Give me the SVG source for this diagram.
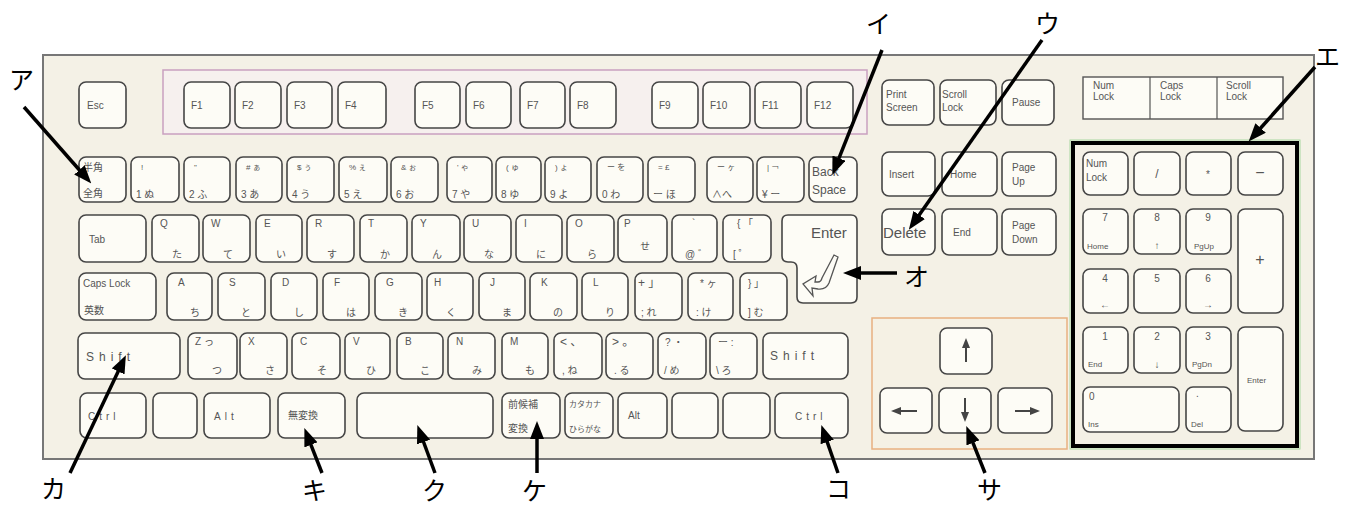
<svg xmlns="http://www.w3.org/2000/svg" width="1352" height="506" viewBox="0 0 1352 506">
<defs>
<marker id="ah" markerUnits="userSpaceOnUse" markerWidth="18" markerHeight="14" refX="8" refY="7" orient="auto"><path d="M0,0 L18,7 L0,14 Z" fill="#000"/></marker>
<marker id="kh" markerUnits="userSpaceOnUse" markerWidth="10" markerHeight="8" refX="2" refY="4" orient="auto"><path d="M0,0 L10,4 L0,8 Z" fill="#444"/></marker>
</defs>
<style>
.k{fill:#fdfcf6;stroke:#454545;stroke-width:1.6}
.t{font-family:"Liberation Sans","Noto Sans CJK JP",sans-serif;font-size:10px;fill:#555}
.s{font-size:8px}
.m{font-size:12px}
.c{text-anchor:middle}
.j{font-family:"Noto Sans CJK JP",sans-serif;font-size:25px;fill:#000}
.a{stroke:#000;stroke-width:3.5;fill:none;marker-end:url(#ah)}
.ka{stroke:#444;stroke-width:2;fill:none;marker-end:url(#kh)}
</style>
<rect width="1352" height="506" fill="#fff"/>
<g id="body">
<rect x="43" y="55" width="1271" height="404" fill="#f4f1e6" stroke="#777" stroke-width="2"/>
<rect x="163" y="70" width="704" height="64" fill="#f6f0ee" stroke="#c9a0c0" stroke-width="1.5"/>
<rect x="872" y="318" width="195" height="131" fill="#f5f1e4" stroke="#e8b080" stroke-width="1.5"/>
<rect x="1070" y="140" width="230" height="309" fill="none" stroke="#a8d8a0" stroke-width="1"/>
<rect x="1073" y="143" width="224" height="303" fill="none" stroke="#000" stroke-width="4"/>
</g>
<g id="frow">
<g id="k-esc"><rect class="k" x="79" y="82" width="47" height="46" rx="7"/><text class="t" x="87" y="109">Esc</text></g>
<g id="k-f1"><rect class="k" x="184" y="82" width="46" height="46" rx="7"/><text class="t" x="191" y="109">F1</text></g>
<g id="k-f2"><rect class="k" x="235" y="82" width="46" height="46" rx="7"/><text class="t" x="242" y="109">F2</text></g>
<g id="k-f3"><rect class="k" x="287" y="82" width="45" height="46" rx="7"/><text class="t" x="294" y="109">F3</text></g>
<g id="k-f4"><rect class="k" x="338" y="82" width="48" height="46" rx="7"/><text class="t" x="345" y="109">F4</text></g>
<g id="k-f5"><rect class="k" x="415" y="82" width="45" height="46" rx="7"/><text class="t" x="422" y="109">F5</text></g>
<g id="k-f6"><rect class="k" x="466" y="82" width="45" height="46" rx="7"/><text class="t" x="473" y="109">F6</text></g>
<g id="k-f7"><rect class="k" x="520" y="82" width="45" height="46" rx="7"/><text class="t" x="527" y="109">F7</text></g>
<g id="k-f8"><rect class="k" x="570" y="82" width="46" height="46" rx="7"/><text class="t" x="577" y="109">F8</text></g>
<g id="k-f9"><rect class="k" x="652" y="82" width="46" height="46" rx="7"/><text class="t" x="659" y="109">F9</text></g>
<g id="k-f10"><rect class="k" x="703" y="82" width="47" height="46" rx="7"/><text class="t" x="710" y="109">F10</text></g>
<g id="k-f11"><rect class="k" x="755" y="82" width="46" height="46" rx="7"/><text class="t" x="762" y="109">F11</text></g>
<g id="k-f12"><rect class="k" x="807" y="82" width="46" height="46" rx="7"/><text class="t" x="814" y="109">F12</text></g>
<g id="k-prt"><rect class="k" x="882" y="80" width="52" height="45" rx="7"/><text class="t" x="886" y="98">Print</text><text class="t" x="886" y="111">Screen</text></g>
<g id="k-scr"><rect class="k" x="940" y="80" width="56" height="45" rx="7"/><text class="t" x="942" y="98">Scroll</text><text class="t" x="942" y="111">Lock</text></g>
<g id="k-pause"><rect class="k" x="1002" y="80" width="52" height="45" rx="7"/><text class="t" x="1012" y="106">Pause</text></g>
<g id="ind"><rect x="1083" y="77" width="200" height="42" fill="#fdfcf6" stroke="#555" stroke-width="1.4"/><line x1="1150" y1="77" x2="1150" y2="119" stroke="#555" stroke-width="1.2"/><line x1="1217" y1="77" x2="1217" y2="119" stroke="#555" stroke-width="1.2"/><text class="t" x="1093" y="89">Num</text><text class="t" x="1093" y="100">Lock</text><text class="t" x="1160" y="89">Caps</text><text class="t" x="1160" y="100">Lock</text><text class="t" x="1226" y="89">Scroll</text><text class="t" x="1226" y="100">Lock</text></g>
</g>
<g id="row1">
<g id="k-hz"><rect class="k" x="79" y="157" width="47" height="45" rx="7"/><text class="t" x="83" y="171">半角</text><text class="t" x="83" y="197">全角</text></g>
<g id="k-1"><rect class="k" x="131" y="157" width="48" height="45" rx="7"/><text class="t s" x="141" y="170">!</text><text class="t" x="136" y="198">1 ぬ</text></g>
<g id="k-2"><rect class="k" x="184" y="157" width="46" height="45" rx="7"/><text class="t s" x="194" y="170">"</text><text class="t" x="189" y="198">2 ふ</text></g>
<g id="k-3"><rect class="k" x="236" y="157" width="46" height="45" rx="7"/><text class="t s" x="246" y="170"># ぁ</text><text class="t" x="241" y="198">3 あ</text></g>
<g id="k-4"><rect class="k" x="287" y="157" width="47" height="45" rx="7"/><text class="t s" x="297" y="170">$ ぅ</text><text class="t" x="292" y="198">4 う</text></g>
<g id="k-5"><rect class="k" x="339" y="157" width="48" height="45" rx="7"/><text class="t s" x="349" y="170">% ぇ</text><text class="t" x="344" y="198">5 え</text></g>
<g id="k-6"><rect class="k" x="391" y="157" width="47" height="45" rx="7"/><text class="t s" x="401" y="170">&amp; ぉ</text><text class="t" x="396" y="198">6 お</text></g>
<g id="k-7"><rect class="k" x="447" y="157" width="45" height="45" rx="7"/><text class="t s" x="457" y="170">' ゃ</text><text class="t" x="452" y="198">7 や</text></g>
<g id="k-8"><rect class="k" x="496" y="157" width="45" height="45" rx="7"/><text class="t s" x="506" y="170">( ゅ</text><text class="t" x="501" y="198">8 ゆ</text></g>
<g id="k-9"><rect class="k" x="545" y="157" width="46" height="45" rx="7"/><text class="t s" x="555" y="170">) ょ</text><text class="t" x="550" y="198">9 よ</text></g>
<g id="k-0"><rect class="k" x="597" y="157" width="46" height="45" rx="7"/><text class="t s" x="607" y="170">ー を</text><text class="t" x="602" y="198">0 わ</text></g>
<g id="k-minus"><rect class="k" x="648" y="157" width="47" height="45" rx="7"/><text class="t s" x="658" y="170">= £</text><text class="t" x="653" y="198">ー ほ</text></g>
<g id="k-caret"><rect class="k" x="707" y="157" width="46" height="45" rx="7"/><text class="t s" x="717" y="170">ー ヶ</text><text class="t" x="712" y="198">∧へ</text></g>
<g id="k-yen"><rect class="k" x="757" y="157" width="47" height="45" rx="7"/><text class="t s" x="767" y="170">| ￢</text><text class="t" x="762" y="198">¥ ー</text></g>
<g id="k-bs"><rect class="k" x="809" y="157" width="48" height="45" rx="7"/><text class="t m" x="812" y="176">Back</text><text class="t m" x="812" y="194">Space</text></g>
</g>
<g id="row2">
<g id="k-tab"><rect class="k" x="79" y="215" width="67" height="47" rx="7"/><text class="t" x="89" y="243">Tab</text></g>
<g id="k-q"><rect class="k" x="152" y="215" width="47" height="47" rx="7"/><text class="t" x="160" y="227">Q</text><text class="t c" x="177" y="258">た</text></g>
<g id="k-w"><rect class="k" x="203" y="215" width="47" height="47" rx="7"/><text class="t" x="211" y="227">W</text><text class="t c" x="228" y="258">て</text></g>
<g id="k-e"><rect class="k" x="256" y="215" width="46" height="47" rx="7"/><text class="t" x="264" y="227">E</text><text class="t c" x="281" y="258">い</text></g>
<g id="k-r"><rect class="k" x="307" y="215" width="47" height="47" rx="7"/><text class="t" x="315" y="227">R</text><text class="t c" x="332" y="258">す</text></g>
<g id="k-t"><rect class="k" x="360" y="215" width="47" height="47" rx="7"/><text class="t" x="368" y="227">T</text><text class="t c" x="385" y="258">か</text></g>
<g id="k-y"><rect class="k" x="412" y="215" width="48" height="47" rx="7"/><text class="t" x="420" y="227">Y</text><text class="t c" x="437" y="258">ん</text></g>
<g id="k-u"><rect class="k" x="464" y="215" width="47" height="47" rx="7"/><text class="t" x="472" y="227">U</text><text class="t c" x="489" y="258">な</text></g>
<g id="k-i"><rect class="k" x="516" y="215" width="46" height="47" rx="7"/><text class="t" x="524" y="227">I</text><text class="t c" x="541" y="258">に</text></g>
<g id="k-o"><rect class="k" x="567" y="215" width="47" height="47" rx="7"/><text class="t" x="575" y="227">O</text><text class="t c" x="592" y="258">ら</text></g>
<g id="k-p"><rect class="k" x="618" y="215" width="49" height="47" rx="7"/><text class="t" x="624" y="227">P</text><text class="t c" x="645" y="250">せ</text></g>
<g id="k-at"><rect class="k" x="672" y="215" width="45" height="47" rx="7"/><text class="t" x="692" y="227">`</text><text class="t" x="685" y="258">@ ゛</text></g>
<g id="k-lb"><rect class="k" x="723" y="215" width="48" height="47" rx="7"/><text class="t" x="737" y="227">{ 「</text><text class="t" x="733" y="258">[ ゜</text></g>
<g id="k-enter"><path class="k" d="M788,215 H851 Q857,215 857,221 V297 Q857,303 851,303 H803 Q797,303 797,297 V268 Q797,262 791,262 H788 Q782,262 782,256 V221 Q782,215 788,215 Z"/><text class="t" x="811" y="238" style="font-size:15px">Enter</text><path d="M834,255 L838,257 L829,283 Q826,290 818,289 L812,288 L813,296 L803,284 L816,276 L815,282 L818,282 Q821,282 822,278 Z" fill="none" stroke="#555" stroke-width="1.3"/></g>
</g>
<g id="row3">
<g id="k-caps"><rect class="k" x="79" y="273" width="77" height="47" rx="7"/><text class="t" x="83" y="287">Caps Lock</text><text class="t" x="84" y="314">英数</text></g>
<g id="k-a"><rect class="k" x="167" y="273" width="45" height="47" rx="7"/><text class="t" x="178" y="286">A</text><text class="t c" x="195" y="316">ち</text></g>
<g id="k-s"><rect class="k" x="218" y="273" width="47" height="47" rx="7"/><text class="t" x="229" y="286">S</text><text class="t c" x="246" y="316">と</text></g>
<g id="k-d"><rect class="k" x="271" y="273" width="46" height="47" rx="7"/><text class="t" x="282" y="286">D</text><text class="t c" x="299" y="316">し</text></g>
<g id="k-f"><rect class="k" x="323" y="273" width="46" height="47" rx="7"/><text class="t" x="334" y="286">F</text><text class="t c" x="351" y="316">は</text></g>
<g id="k-g"><rect class="k" x="375" y="273" width="47" height="47" rx="7"/><text class="t" x="386" y="286">G</text><text class="t c" x="403" y="316">き</text></g>
<g id="k-h"><rect class="k" x="427" y="273" width="46" height="47" rx="7"/><text class="t" x="434" y="286">H</text><text class="t c" x="451" y="316">く</text></g>
<g id="k-jk"><rect class="k" x="479" y="273" width="46" height="47" rx="7"/><text class="t" x="490" y="286">J</text><text class="t c" x="507" y="316">ま</text></g>
<g id="k-k"><rect class="k" x="530" y="273" width="47" height="47" rx="7"/><text class="t" x="541" y="286">K</text><text class="t c" x="558" y="316">の</text></g>
<g id="k-l"><rect class="k" x="582" y="273" width="46" height="47" rx="7"/><text class="t" x="593" y="286">L</text><text class="t c" x="610" y="316">り</text></g>
<g id="k-semi"><rect class="k" x="635" y="273" width="47" height="47" rx="7"/><text class="t m" x="638" y="287">+ 」</text><text class="t" x="641" y="316">; れ</text></g>
<g id="k-colon"><rect class="k" x="688" y="273" width="45" height="47" rx="7"/><text class="t" x="700" y="287">* ヶ</text><text class="t" x="696" y="316">: け</text></g>
<g id="k-rb"><rect class="k" x="740" y="273" width="47" height="47" rx="7"/><text class="t" x="748" y="287">} 」</text><text class="t" x="748" y="316">] む</text></g>
</g>
<g id="row4">
<g id="k-lshift"><rect class="k" x="78" y="333" width="102" height="46" rx="7"/><text class="t m" x="86" y="361" letter-spacing="5">Shift</text></g>
<g id="k-z"><rect class="k" x="188" y="333" width="49" height="46" rx="7"/><text class="t" x="195" y="345">Z っ</text><text class="t c" x="217" y="374">つ</text></g>
<g id="k-x"><rect class="k" x="240" y="333" width="47" height="46" rx="7"/><text class="t" x="248" y="345">X</text><text class="t c" x="270" y="374">さ</text></g>
<g id="k-c"><rect class="k" x="292" y="333" width="48" height="46" rx="7"/><text class="t" x="300" y="345">C</text><text class="t c" x="322" y="374">そ</text></g>
<g id="k-v"><rect class="k" x="345" y="333" width="45" height="46" rx="7"/><text class="t" x="353" y="345">V</text><text class="t c" x="371" y="374">ひ</text></g>
<g id="k-b"><rect class="k" x="397" y="333" width="46" height="46" rx="7"/><text class="t" x="405" y="345">B</text><text class="t c" x="425" y="374">こ</text></g>
<g id="k-n"><rect class="k" x="448" y="333" width="47" height="46" rx="7"/><text class="t" x="456" y="345">N</text><text class="t c" x="477" y="374">み</text></g>
<g id="k-mk"><rect class="k" x="502" y="333" width="46" height="46" rx="7"/><text class="t" x="510" y="345">M</text><text class="t c" x="530" y="374">も</text></g>
<g id="k-comma"><rect class="k" x="554" y="333" width="48" height="46" rx="7"/><text class="t m" x="560" y="346">&lt; 、</text><text class="t" x="562" y="374">, ね</text></g>
<g id="k-period"><rect class="k" x="606" y="333" width="47" height="46" rx="7"/><text class="t m" x="612" y="346">&gt; 。</text><text class="t" x="614" y="374">. る</text></g>
<g id="k-slash"><rect class="k" x="658" y="333" width="48" height="46" rx="7"/><text class="t" x="665" y="346">? ・</text><text class="t" x="664" y="374">/ め</text></g>
<g id="k-bsl"><rect class="k" x="710" y="333" width="47" height="46" rx="7"/><text class="t" x="718" y="346">ー :</text><text class="t" x="716" y="374">\ ろ</text></g>
<g id="k-rshift"><rect class="k" x="763" y="333" width="85" height="46" rx="7"/><text class="t m" x="770" y="360" letter-spacing="5">Shift</text></g>
</g>
<g id="row5">
<g id="k-lctrl"><rect class="k" x="80" y="393" width="66" height="45" rx="7"/><text class="t" x="88" y="420" letter-spacing="4">Ctrl</text></g>
<g id="k-lwin"><rect class="k" x="153" y="393" width="44" height="45" rx="7"/></g>
<g id="k-lalt"><rect class="k" x="204" y="393" width="66" height="45" rx="7"/><text class="t" x="214" y="420" letter-spacing="4">Alt</text></g>
<g id="k-muhen"><rect class="k" x="278" y="393" width="67" height="45" rx="7"/><text class="t" x="288" y="419">無変換</text></g>
<g id="k-space"><rect class="k" x="357" y="393" width="136" height="45" rx="7"/></g>
<g id="k-henkan"><rect class="k" x="502" y="393" width="58" height="45" rx="7"/><text class="t" x="508" y="408">前候補</text><text class="t" x="508" y="432">変換</text></g>
<g id="k-kana"><rect class="k" x="565" y="393" width="48" height="45" rx="7"/><text class="t s" x="569" y="407">カタカナ</text><text class="t s" x="569" y="432">ひらがな</text></g>
<g id="k-ralt"><rect class="k" x="618" y="393" width="49" height="45" rx="7"/><text class="t" x="628" y="419">Alt</text></g>
<g id="k-rwin"><rect class="k" x="672" y="393" width="46" height="45" rx="7"/></g>
<g id="k-menu"><rect class="k" x="723" y="393" width="47" height="45" rx="7"/></g>
<g id="k-rctrl"><rect class="k" x="775" y="393" width="73" height="45" rx="7"/><text class="t" x="795" y="420" letter-spacing="4">Ctrl</text></g>
</g>
<g id="nav">
<g id="k-ins"><rect class="k" x="882" y="152" width="53" height="44" rx="7"/><text class="t" x="889" y="178">Insert</text></g>
<g id="k-home"><rect class="k" x="942" y="152" width="55" height="44" rx="7"/><text class="t" x="950" y="178">Home</text></g>
<g id="k-pgup"><rect class="k" x="1002" y="152" width="54" height="44" rx="7"/><text class="t" x="1012" y="171">Page</text><text class="t" x="1012" y="185">Up</text></g>
<g id="k-del"><rect class="k" x="882" y="209" width="53" height="46" rx="7"/><text class="t" x="883" y="238" style="font-size:15px">Delete</text></g>
<g id="k-end"><rect class="k" x="942" y="209" width="55" height="46" rx="7"/><text class="t" x="953" y="236">End</text></g>
<g id="k-pgdn"><rect class="k" x="1002" y="209" width="54" height="46" rx="7"/><text class="t" x="1012" y="229">Page</text><text class="t" x="1012" y="243">Down</text></g>
</g>
<g id="arrowkeys">
<g id="k-up"><rect class="k" x="940" y="328" width="52" height="46" rx="7"/><line class="ka" x1="966" y1="362" x2="966" y2="346"/></g>
<g id="k-left"><rect class="k" x="880" y="388" width="52" height="45" rx="7"/><line class="ka" x1="917" y1="411" x2="899" y2="411"/></g>
<g id="k-down"><rect class="k" x="939" y="388" width="52" height="45" rx="7"/><line class="ka" x1="965" y1="398" x2="965" y2="414"/></g>
<g id="k-right"><rect class="k" x="998" y="388" width="54" height="45" rx="7"/><line class="ka" x1="1015" y1="411" x2="1032" y2="411"/></g>
</g>
<g id="numpad">
<g id="n-num"><rect class="k" x="1083" y="152" width="45" height="43" rx="7"/><text class="t" x="1086" y="167">Num</text><text class="t" x="1086" y="181">Lock</text></g>
<g id="n-div"><rect class="k" x="1134" y="152" width="46" height="43" rx="7"/><text class="t c m" x="1157" y="178">/</text></g>
<g id="n-mul"><rect class="k" x="1186" y="152" width="45" height="43" rx="7"/><text class="t c" x="1208" y="178">*</text></g>
<g id="n-sub"><rect class="k" x="1238" y="152" width="45" height="43" rx="7"/><text class="t c" x="1260" y="178" style="font-size:16px">−</text></g>
<g id="n-7"><rect class="k" x="1083" y="209" width="45" height="45" rx="7"/><text class="t c" x="1105" y="221">7</text><text class="t s" x="1087" y="249">Home</text></g>
<g id="n-8"><rect class="k" x="1134" y="209" width="46" height="45" rx="7"/><text class="t c" x="1157" y="221">8</text><text class="t c" x="1157" y="249">↑</text></g>
<g id="n-9"><rect class="k" x="1186" y="209" width="45" height="45" rx="7"/><text class="t c" x="1208" y="221">9</text><text class="t s" x="1194" y="249">PgUp</text></g>
<g id="n-add"><rect class="k" x="1238" y="209" width="45" height="104" rx="7"/><text class="t c" x="1260" y="265" style="font-size:16px">+</text></g>
<g id="n-4"><rect class="k" x="1083" y="269" width="45" height="44" rx="7"/><text class="t c" x="1105" y="282">4</text><text class="t c" x="1105" y="308">←</text></g>
<g id="n-5"><rect class="k" x="1134" y="269" width="46" height="44" rx="7"/><text class="t c" x="1157" y="282">5</text></g>
<g id="n-6"><rect class="k" x="1186" y="269" width="45" height="44" rx="7"/><text class="t c" x="1208" y="282">6</text><text class="t c" x="1208" y="308">→</text></g>
<g id="n-1"><rect class="k" x="1083" y="327" width="45" height="46" rx="7"/><text class="t c" x="1105" y="340">1</text><text class="t s" x="1088" y="367">End</text></g>
<g id="n-2"><rect class="k" x="1134" y="327" width="46" height="46" rx="7"/><text class="t c" x="1157" y="340">2</text><text class="t c" x="1157" y="368">↓</text></g>
<g id="n-3"><rect class="k" x="1186" y="327" width="45" height="46" rx="7"/><text class="t c" x="1208" y="340">3</text><text class="t s" x="1192" y="367">PgDn</text></g>
<g id="n-ent"><rect class="k" x="1238" y="327" width="45" height="104" rx="7"/><text class="t s" x="1247" y="383">Enter</text></g>
<g id="n-0"><rect class="k" x="1083" y="387" width="96" height="45" rx="7"/><text class="t" x="1089" y="400">0</text><text class="t s" x="1088" y="427">Ins</text></g>
<g id="n-dot"><rect class="k" x="1186" y="387" width="45" height="45" rx="7"/><text class="t" x="1196" y="397">.</text><text class="t s" x="1191" y="427">Del</text></g>
</g>
<g id="connectors">
<line class="a" x1="24" y1="107" x2="84.7" y2="176"/>
<line class="a" x1="882" y1="50" x2="836" y2="165.6"/>
<line class="a" x1="1042" y1="40" x2="914.6" y2="221.5"/>
<line class="a" x1="1315" y1="67" x2="1255.3" y2="134"/>
<line class="a" x1="897" y1="273" x2="853" y2="273"/>
<line class="a" x1="70" y1="473" x2="121.6" y2="364.2"/>
<line class="a" x1="322" y1="473" x2="308" y2="437.4"/>
<line class="a" x1="435" y1="473" x2="420.8" y2="434.5"/>
<line class="a" x1="537" y1="473" x2="537" y2="431"/>
<line class="a" x1="838" y1="473" x2="824.6" y2="434.4"/>
<line class="a" x1="985" y1="473" x2="970" y2="435.4"/>
</g>
<g id="labels">
<text class="j" x="9" y="89">ア</text>
<text class="j" x="866" y="33">イ</text>
<text class="j" x="1035" y="33">ウ</text>
<text class="j" x="1315" y="66">エ</text>
<text class="j" x="904" y="286">オ</text>
<text class="j" x="41" y="498">カ</text>
<text class="j" x="302" y="500">キ</text>
<text class="j" x="422" y="500">ク</text>
<text class="j" x="522" y="500">ケ</text>
<text class="j" x="826" y="498">コ</text>
<text class="j" x="977" y="499">サ</text>
</g>
</svg>
